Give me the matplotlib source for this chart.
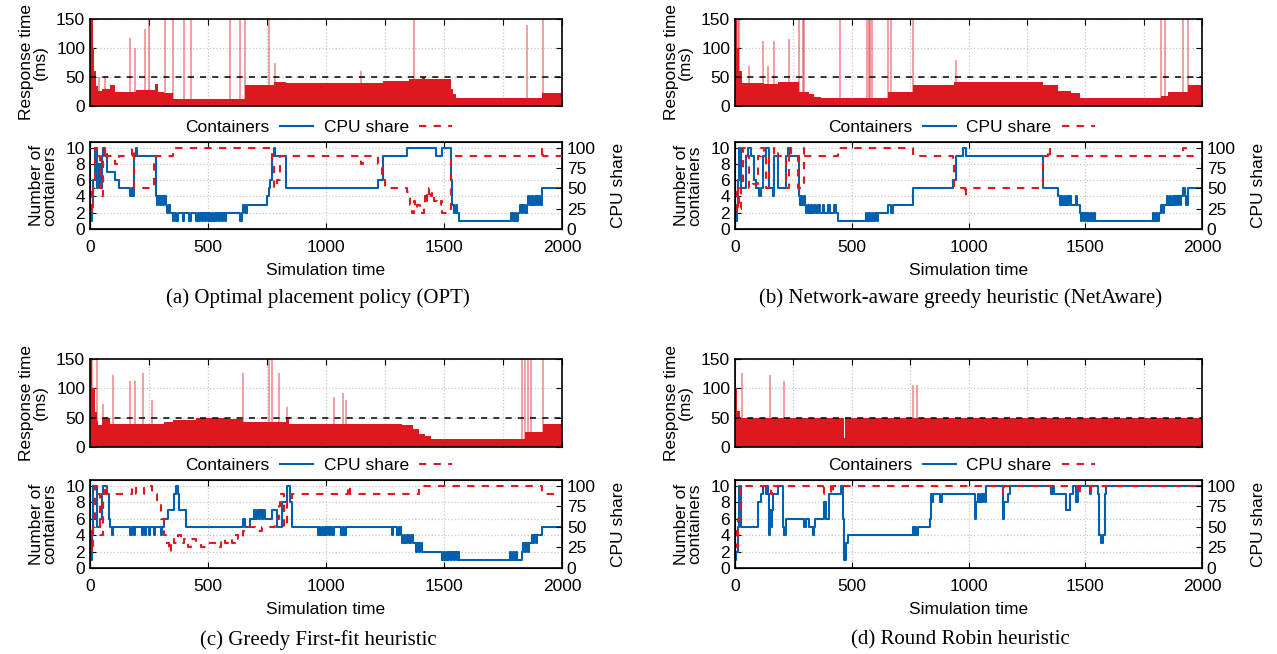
import matplotlib
matplotlib.use("Agg")
import matplotlib.pyplot as plt
from matplotlib.lines import Line2D

plt.rcParams['font.family'] = ['Liberation Sans', 'DejaVu Sans']

RED = '#dd181f'
BLUE = '#0060ad'
GRID = '#c8c8c8'
DASH = (0, (3.5, 3.5))

# ---- panel (a) OPT : (time, value) steps ----
resp_a = [(0, 150), (12, 100), (18, 60), (24, 35), (36, 26), (50, 29), (86, 37), (107, 25), (193, 28),
          (276, 38), (290, 25), (314, 23), (353, 12), (657, 37), (779, 42), (829, 39), (1243, 43),
          (1350, 47), (1407, 50), (1421, 46), (1529, 30), (1540, 20), (1550, 13), (1914, 23)]
spikes_a = [(39, 50), (64, 52), (171, 117), (190, 100), (233, 132), (250, 150), (319, 150), (353, 150),
            (400, 150), (429, 150), (593, 150), (636, 150), (657, 150), (760, 150), (786, 74),
            (1147, 60), (1371, 150), (1850, 140), (1919, 150)]
cont_a = [(0, 1), (8, 3), (14, 6), (21, 10), (29, 5), (36, 8), (43, 5), (50, 9), (57, 10), (64, 9), (71, 7),
          (107, 6), (121, 5), (171, 4), (176, 5), (183, 4), (188, 9), (193, 10), (198, 9), (279, 4),
          (284, 3), (290, 4), (296, 3), (302, 4), (308, 3), (314, 4), (320, 3), (326, 2), (334, 3),
          (340, 2), (352, 1), (358, 2), (366, 1), (372, 2), (392, 1), (398, 2), (420, 1), (426, 2),
          (450, 1), (456, 2), (462, 1), (468, 2), (474, 1), (480, 2), (486, 1), (492, 2), (498, 1),
          (504, 2), (510, 1), (516, 2), (522, 1), (528, 2), (534, 1), (540, 2), (546, 1), (552, 2),
          (558, 1), (564, 2), (570, 1), (578, 2), (636, 1), (642, 2), (650, 3), (657, 2), (664, 3),
          (750, 4), (757, 5), (764, 6), (771, 9), (779, 10), (786, 9), (829, 5), (1221, 6), (1243, 9),
          (1343, 10), (1464, 9), (1493, 10), (1529, 6), (1536, 3), (1543, 2), (1550, 3), (1557, 2),
          (1564, 1), (1786, 2), (1793, 1), (1800, 2), (1807, 1), (1814, 2), (1821, 3), (1829, 2),
          (1836, 3), (1843, 2), (1850, 3), (1857, 4), (1864, 3), (1871, 4), (1879, 3), (1886, 4),
          (1893, 3), (1900, 4), (1907, 3), (1914, 5)]
cpu_a = [(0, 45), (7, 20), (14, 50), (21, 100), (29, 90), (43, 50), (50, 40), (57, 90), (64, 100), (71, 90),
         (107, 80), (121, 90), (179, 100), (186, 50), (229, 50), (272, 90), (350, 100), (771, 80),
         (779, 50), (793, 60), (807, 90), (1150, 80), (1157, 90), (1221, 80), (1236, 60), (1250, 50),
         (1343, 45), (1357, 30), (1364, 20), (1371, 35), (1379, 25), (1386, 30), (1400, 20), (1414, 30),
         (1421, 45), (1429, 35), (1436, 50), (1443, 40), (1450, 45), (1457, 35), (1471, 30), (1486, 35),
         (1493, 20), (1514, 25), (1529, 90), (1914, 100), (1921, 90)]

# ---- panel (b) NetAware ----
resp_b = [(0, 150), (10, 100), (18, 60), (28, 39), (126, 38), (183, 41), (276, 25), (319, 20), (340, 16),
          (369, 13), (654, 24), (761, 37), (940, 42), (1319, 37), (1383, 26), (1440, 22), (1476, 13),
          (1826, 18), (1854, 25), (1940, 37)]
spikes_b = [(11, 150), (19, 150), (61, 69), (119, 112), (140, 69), (169, 112), (233, 115), (276, 150),
            (290, 150), (297, 150), (451, 150), (565, 150), (572, 150), (579, 150), (586, 150), (654, 150),
            (669, 150), (761, 150), (947, 80), (1826, 150), (1843, 150), (1919, 150), (1940, 150)]
cont_b = [(0, 1), (8, 3), (14, 6), (19, 10), (26, 5), (47, 9), (57, 10), (69, 9), (83, 6), (90, 5),
          (104, 4), (111, 5), (119, 9), (133, 10), (147, 5), (161, 4), (166, 5), (169, 9), (183, 5),
          (219, 9), (226, 10), (233, 9), (273, 4), (278, 3), (283, 4), (288, 3), (294, 4), (300, 3),
          (306, 2), (312, 3), (318, 2), (324, 3), (330, 2), (340, 3), (346, 2), (356, 3), (362, 2),
          (376, 3), (382, 2), (400, 3), (406, 2), (426, 3), (432, 2), (440, 1), (561, 2), (567, 1),
          (574, 2), (580, 1), (587, 2), (593, 1), (600, 2), (607, 1), (613, 2), (654, 3), (669, 2),
          (676, 3), (761, 5), (933, 6), (947, 9), (976, 10), (990, 9), (1319, 5), (1383, 4), (1390, 3),
          (1396, 4), (1402, 3), (1408, 4), (1414, 3), (1420, 4), (1426, 3), (1432, 4), (1440, 3),
          (1460, 4), (1466, 3), (1476, 2), (1482, 1), (1488, 2), (1494, 1), (1500, 2), (1506, 1),
          (1512, 2), (1518, 1), (1524, 2), (1530, 1), (1536, 2), (1542, 1), (1790, 2), (1796, 1),
          (1802, 2), (1808, 1), (1814, 2), (1826, 3), (1832, 2), (1838, 3), (1850, 4), (1856, 3),
          (1862, 4), (1868, 3), (1874, 4), (1880, 3), (1886, 4), (1892, 3), (1898, 4), (1904, 3),
          (1910, 4), (1919, 5), (1926, 4), (1932, 3), (1940, 5)]
cpu_b = [(0, 45), (7, 20), (14, 50), (19, 25), (26, 50), (33, 100), (47, 90), (61, 50), (76, 55), (97, 90),
         (111, 100), (126, 90), (133, 50), (147, 90), (169, 100), (183, 90), (219, 50), (233, 100),
         (240, 90), (269, 50), (294, 100), (300, 90), (440, 100), (761, 90), (933, 80), (940, 50),
         (983, 40), (990, 50), (1319, 90), (1340, 100), (1347, 90), (1919, 100), (1933, 90)]

# ---- panel (c) Greedy First-fit ----
resp_c = [(0, 150), (10, 100), (20, 60), (29, 45), (36, 37), (50, 50), (86, 39), (314, 43), (350, 46),
          (450, 50), (579, 47), (650, 43), (829, 51), (843, 39), (1321, 37), (1370, 30), (1393, 23),
          (1420, 18), (1443, 14), (1843, 25), (1919, 39)]
spikes_c = [(7, 150), (29, 150), (57, 74), (97, 123), (171, 112), (190, 112), (224, 126), (264, 80),
            (650, 126), (757, 150), (771, 150), (800, 126), (836, 69), (1036, 86), (1071, 92), (1086, 80),
            (1829, 150), (1843, 150), (1857, 150), (1870, 150), (1919, 150)]
cont_c = [(0, 1), (7, 4), (14, 10), (29, 5), (43, 6), (50, 9), (57, 10), (71, 9), (79, 6), (86, 5), (93, 4),
          (97, 5), (171, 4), (176, 5), (186, 4), (191, 5), (221, 4), (226, 5), (231, 4), (236, 5),
          (250, 4), (255, 5), (271, 4), (276, 5), (300, 4), (305, 5), (314, 6), (329, 7), (357, 9),
          (364, 10), (371, 9), (379, 7), (407, 5), (650, 6), (657, 5), (679, 6), (693, 7), (700, 6),
          (707, 7), (714, 6), (721, 7), (728, 6), (735, 7), (742, 6), (771, 7), (793, 5), (814, 8),
          (836, 10), (847, 8), (857, 5), (964, 4), (970, 5), (976, 4), (982, 5), (988, 4), (994, 5),
          (1000, 4), (1006, 5), (1012, 4), (1018, 5), (1024, 4), (1036, 5), (1064, 4), (1070, 5),
          (1076, 4), (1086, 5), (1279, 4), (1285, 5), (1300, 4), (1310, 5), (1316, 4), (1322, 3),
          (1330, 4), (1336, 3), (1344, 4), (1352, 3), (1360, 4), (1370, 3), (1380, 2), (1386, 3),
          (1393, 2), (1400, 3), (1407, 2), (1493, 1), (1499, 2), (1505, 1), (1511, 2), (1517, 1),
          (1523, 2), (1529, 1), (1535, 2), (1541, 1), (1547, 2), (1553, 1), (1559, 2), (1565, 1),
          (1779, 2), (1785, 1), (1791, 2), (1797, 1), (1803, 2), (1809, 1), (1829, 2), (1836, 3),
          (1842, 2), (1848, 3), (1854, 2), (1860, 3), (1871, 4), (1877, 3), (1883, 4), (1889, 3),
          (1895, 4), (1914, 5)]
cpu_c = [(0, 45), (7, 20), (14, 50), (21, 100), (36, 90), (43, 40), (57, 90), (64, 100), (71, 90),
         (179, 100), (193, 90), (229, 100), (264, 90), (286, 80), (300, 60), (314, 40), (322, 30),
         (336, 20), (343, 35), (357, 30), (371, 40), (386, 30), (400, 35), (414, 25), (429, 35), (450, 30),
         (471, 25), (500, 30), (543, 25), (557, 35), (571, 30), (586, 35), (600, 30), (615, 40), (629, 35),
         (650, 45), (664, 50), (700, 45), (729, 50), (786, 60), (800, 75), (807, 90), (821, 50), (836, 80),
         (857, 90), (1093, 100), (1100, 90), (1393, 100), (1914, 90)]

# ---- panel (d) Round Robin ----
resp_d = [(0, 150), (6, 100), (10, 62), (20, 50), (467, 15), (471, 50)]
spikes_d = [(29, 126), (151, 123), (211, 112), (761, 106), (779, 106)]
cont_d = [(0, 1), (4, 2), (11, 5), (19, 10), (26, 5), (97, 8), (111, 9), (119, 10), (133, 9), (138, 10),
          (143, 9), (147, 4), (151, 7), (154, 5), (157, 7), (161, 9), (183, 10), (204, 5), (211, 4),
          (219, 6), (297, 5), (304, 6), (319, 5), (333, 4), (338, 5), (343, 6), (383, 8), (390, 6),
          (404, 9), (454, 10), (461, 6), (466, 1), (476, 3), (483, 4), (761, 5), (766, 4), (771, 5),
          (776, 4), (783, 5), (833, 6), (840, 9), (845, 8), (850, 9), (880, 8), (886, 9), (1026, 6),
          (1033, 8), (1040, 9), (1046, 8), (1052, 9), (1058, 8), (1064, 9), (1070, 8), (1076, 10),
          (1147, 6), (1154, 8), (1169, 9), (1176, 10), (1354, 9), (1360, 10), (1366, 9), (1419, 7),
          (1433, 9), (1447, 10), (1461, 8), (1469, 10), (1519, 9), (1526, 10), (1554, 9), (1561, 4),
          (1569, 3), (1576, 4), (1583, 9), (1590, 10)]
cpu_d = [(0, 45), (7, 25), (14, 60), (20, 100), (154, 90), (160, 100), (376, 90), (383, 100), (411, 90),
         (418, 100), (1147, 90), (1154, 100), (1469, 90), (1476, 100), (1519, 90), (1526, 100)]

captions = ["(a) Optimal placement policy (OPT)", "(b) Network-aware greedy heuristic (NetAware)",
            "(c) Greedy First-fit heuristic", "(d) Round Robin heuristic"]

T_END = 2000
FS = 12.5


def steps(pairs):
    t = [p[0] for p in pairs] + [T_END]
    v = [p[1] for p in pairs] + [pairs[-1][1]]
    return t, v


def style(ax):
    ax.tick_params(direction='in', top=True, right=True, length=4, labelsize=FS)
    ax.grid(True, color=GRID, ls=':', lw=0.9)
    for s in ax.spines.values():
        s.set_linewidth(1.2)
    ax.set_xlim(0, T_END)


W, H = 1277.0, 654.0


def box(x0, x1, y0, y1):
    return [x0 / W, 1 - y1 / H, (x1 - x0) / W, (y1 - y0) / H]


fig = plt.figure(figsize=(12.77, 6.54), dpi=100)

cols = [(90, 562), (735, 1202)]
rows = [((19, 106), (142, 229), 298), ((359, 447), (480, 568), 640)]
panels = [(resp_a, spikes_a, cont_a, cpu_a), (resp_b, spikes_b, cont_b, cpu_b),
          (resp_c, spikes_c, cont_c, cpu_c), (resp_d, spikes_d, cont_d, cpu_d)]

for i, (resp, spikes, cont, cpu) in enumerate(panels):
    x0, x1 = cols[i % 2]
    (ty0, ty1), (by0, by1), cap_y = rows[i // 2]

    # response time
    ax = fig.add_axes(box(x0, x1, ty0, ty1))
    t, v = steps(resp)
    ax.fill_between(t, 0, v, step='post', color=RED, lw=0, zorder=2)
    ax.vlines([s[0] for s in spikes], 0, [s[1] for s in spikes], color=RED, alpha=0.45, lw=1.3, zorder=2)
    ax.axhline(50, color='black', ls=(0, (4, 4)), lw=1.1, zorder=3)
    style(ax)
    ax.set_ylim(0, 150)
    ax.set_yticks([0, 50, 100, 150])
    ax.set_xticks(range(0, 2001, 250))
    ax.set_xticklabels([])
    ax.set_ylabel("Response time\n(ms)", fontsize=FS, linespacing=0.85, labelpad=6)
    ax.set_axisbelow(True)

    # containers / cpu share
    bx = fig.add_axes(box(x0, x1, by0, by1))
    t, v = steps(cont)
    bx.step(t, v, where='post', color=BLUE, lw=1.5)
    style(bx)
    bx.tick_params(right=False)
    bx.tick_params(axis='x', pad=8)
    bx.set_ylim(0, 10.7)
    bx.set_yticks(range(0, 11, 2))
    bx.set_xticks(range(0, 2001, 500))
    bx.set_xlabel("Simulation time", fontsize=FS, labelpad=6)
    bx.set_ylabel("Number of\ncontainers", fontsize=FS, linespacing=0.85, labelpad=6)

    bx2 = bx.twinx()
    t, v = steps(cpu)
    bx2.step(t, v, where='post', color=RED, lw=1.5, ls=DASH)
    bx2.set_ylim(0, 107)
    bx2.set_yticks([0, 25, 50, 75, 100])
    bx2.tick_params(direction='in', length=4, labelsize=FS)
    bx2.set_ylabel("CPU share", fontsize=FS, labelpad=11)
    bx2.set_xlim(0, T_END)

    handles = [Line2D([], [], color=BLUE, lw=1.5), Line2D([], [], color=RED, lw=1.5, ls=DASH)]
    bx2.legend(handles, ["Containers", "CPU share"], loc='lower center', bbox_to_anchor=(0.485, 1.0),
               ncol=2, frameon=False, markerfirst=False, fontsize=FS, handlelength=1.9,
               columnspacing=0.6, handletextpad=0.6, borderaxespad=0.0)

    fig.text((x0 + x1) / 2 / W - 8 / W, 1 - cap_y / H, captions[i], ha='center', va='center',
             fontsize=15, family='Liberation Serif')

fig.savefig("out.png", dpi=100)
